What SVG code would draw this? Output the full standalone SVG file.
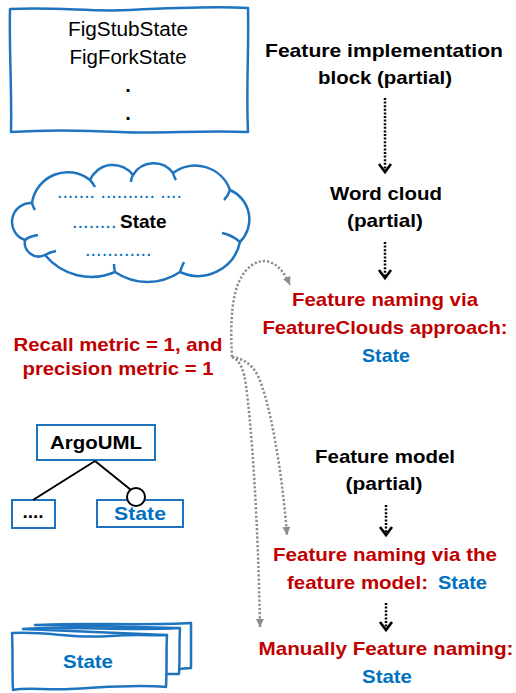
<svg xmlns="http://www.w3.org/2000/svg" width="516" height="693" viewBox="0 0 516 693">
<style>
text{font-family:"Liberation Sans",Arial,sans-serif}
.b{font-weight:bold;font-size:19px;text-anchor:middle}
.k{fill:#000}
.r{fill:#C00000}
.u{fill:#0070C0}
.shape{fill:#fff;stroke:#1F74C0;stroke-width:2.5;stroke-linejoin:round}
.box{fill:#fff;stroke:#1F74C0;stroke-width:2}
.blk{fill:none;stroke:#000;stroke-width:2.5;stroke-dasharray:2 1.6}
.gry{fill:none;stroke:#8C8C8C;stroke-width:2.5;stroke-dasharray:2.2 2}
</style>
<defs>
<marker id="chev" markerUnits="userSpaceOnUse" markerWidth="16" markerHeight="16" viewBox="0 0 16 16" refX="12" refY="8" orient="auto">
<path d="M4,2 L12,8 L4,14" fill="none" stroke="#000" stroke-width="2.6"/>
</marker>
<marker id="tri" markerUnits="userSpaceOnUse" markerWidth="10" markerHeight="10" viewBox="0 0 10 10" refX="9" refY="5" orient="auto">
<path d="M1,1 L9,5 L1,9 Z" fill="#8C8C8C"/>
</marker>
</defs>

<g id="n-figbox">
<path class="shape" d="M10,9 C60,7 90,12 130,10 S210,6 248,8 C249,50 246,90 248,132 C200,130 160,134 120,132 S40,130 11,132 C12,90 9,50 10,9 Z"/>
<text x="128" y="36" font-size="20" text-anchor="middle" textLength="120" lengthAdjust="spacingAndGlyphs">FigStubState</text>
<text x="128" y="64" font-size="20" text-anchor="middle" textLength="117" lengthAdjust="spacingAndGlyphs">FigForkState</text>
<text x="128" y="92" font-size="20" font-weight="bold" text-anchor="middle">.</text>
<text x="128" y="120" font-size="20" font-weight="bold" text-anchor="middle">.</text>
</g>

<g id="n-cloud">
<path class="shape" d="M25,240 A19,19 0 0 1 32,203 A36,36 0 0 1 90,180 A25,25 0 0 1 133,175 A24,24 0 0 1 173,173 A37,37 0 0 1 230,190 A32,32 0 0 1 240,242 A43,43 0 0 1 180,272 A58,58 0 0 1 115,272 A60,60 0 0 1 45,255 A14,14 0 0 1 25,240 Z"/>
<path d="M32,203 Q33,207 35,210 M90,180 Q93,183 95,187 M133,175 Q131,178 131,182 M173,173 Q174,177 176,180 M230,190 Q228,196 224,200 M240,242 Q232,235 222,233 M180,272 Q182,266 184,262 M115,272 Q114,268 114,264 M45,255 Q50,252 56,251 M25,240 Q30,236 38,235" fill="none" stroke="#1F74C0" stroke-width="2.5"/>
<text x="57" y="198" font-size="20" class="u" textLength="125" lengthAdjust="spacingAndGlyphs">....... .......... ....</text>
<text x="72" y="228" font-size="20"><tspan class="u">........</tspan><tspan x="120" font-weight="bold" font-size="19" class="k">State</tspan></text>
<text x="85" y="256" font-size="20" class="u">............</text>
</g>

<g id="n-argouml">
<rect class="box" x="37" y="425" width="118" height="35"/>
<text class="b k" x="96" y="449" textLength="92" lengthAdjust="spacingAndGlyphs">ArgoUML</text>
<rect class="box" x="12" y="500" width="43" height="28"/>
<text class="b k" x="33" y="518">....</text>
<rect class="box" x="97" y="500" width="86" height="27"/>
<text class="b u" x="140" y="520" textLength="52" lengthAdjust="spacingAndGlyphs">State</text>
<path d="M95,461 L33,500 M95,461 L131,490" stroke="#000" stroke-width="2" fill="none"/>
<circle cx="136" cy="497" r="9" fill="#fff" stroke="#000" stroke-width="2"/>
</g>

<g id="n-stack">
<path class="shape" d="M35,625 C80,622 140,626 191,623 L191,668 L178,669 L178,628 Z"/>
<path class="shape" d="M23,629 C70,626 130,631 180,628 C179,645 180,660 179,674 L166,674 L166,635 Z"/>
<path class="shape" d="M12,633 C50,631 70,639 110,636 C140,634 155,636 167,635 C166,652 167,670 166,687 C130,684 100,688 70,689 C45,690 25,687 13,690 C12,670 13,650 12,633 Z"/>
<text class="b u" x="88" y="668" textLength="50" lengthAdjust="spacingAndGlyphs">State</text>
</g>

<g id="n-metric">
<text class="b r" x="118" y="351" textLength="209" lengthAdjust="spacingAndGlyphs">Recall metric = 1, and</text>
<text class="b r" x="118" y="375" textLength="191" lengthAdjust="spacingAndGlyphs">precision metric = 1</text>
</g>

<g id="n-impl">
<text class="b k" x="384" y="57" textLength="238" lengthAdjust="spacingAndGlyphs">Feature implementation</text>
<text class="b k" x="385" y="84" textLength="134" lengthAdjust="spacingAndGlyphs">block (partial)</text>
</g>

<g id="n-wordcloud">
<text class="b k" x="386" y="200" textLength="112" lengthAdjust="spacingAndGlyphs">Word cloud</text>
<text class="b k" x="385" y="227" textLength="76" lengthAdjust="spacingAndGlyphs">(partial)</text>
</g>

<g id="n-naming-clouds">
<text class="b r" x="385" y="306" textLength="186" lengthAdjust="spacingAndGlyphs">Feature naming via</text>
<text class="b r" x="385" y="334" textLength="245" lengthAdjust="spacingAndGlyphs">FeatureClouds approach:</text>
<text class="b u" x="386" y="362" textLength="48" lengthAdjust="spacingAndGlyphs">State</text>
</g>

<g id="n-fm">
<text class="b k" x="385" y="463" textLength="140" lengthAdjust="spacingAndGlyphs">Feature model</text>
<text class="b k" x="384" y="490" textLength="77" lengthAdjust="spacingAndGlyphs">(partial)</text>
</g>

<g id="n-naming-fm">
<text class="b r" x="385" y="561" textLength="224" lengthAdjust="spacingAndGlyphs">Feature naming via the</text>
<text class="b r" x="287" y="589" text-anchor="start" style="text-anchor:start" textLength="141" lengthAdjust="spacingAndGlyphs">feature model:</text>
<text class="b u" x="438" y="589" style="text-anchor:start" textLength="49" lengthAdjust="spacingAndGlyphs">State</text>
</g>

<g id="n-manual">
<text class="b r" x="386" y="655" textLength="255" lengthAdjust="spacingAndGlyphs">Manually Feature naming:</text>
<text class="b u" x="387" y="683" textLength="50" lengthAdjust="spacingAndGlyphs">State</text>
</g>

<g id="connectors">
<path class="blk" d="M385,98 L385,172" marker-end="url(#chev)"/>
<path class="blk" d="M385,242 L385,278" marker-end="url(#chev)"/>
<path class="blk" d="M386,505 L386,535" marker-end="url(#chev)"/>
<path class="blk" d="M386,603 L386,630" marker-end="url(#chev)"/>
<path class="gry" d="M232,357 C230,320 232,292 242,276 C250,263 262,258 272,263 C280,267 285,274 290,285" marker-end="url(#tri)"/>
<path class="gry" d="M232,357 C242,358 252,364 258,376 C270,402 282,470 287,535" marker-end="url(#tri)"/>
<path class="gry" d="M232,357 C240,360 244,370 246,386 C252,430 258,520 260,627" marker-end="url(#tri)"/>
</g>
</svg>
